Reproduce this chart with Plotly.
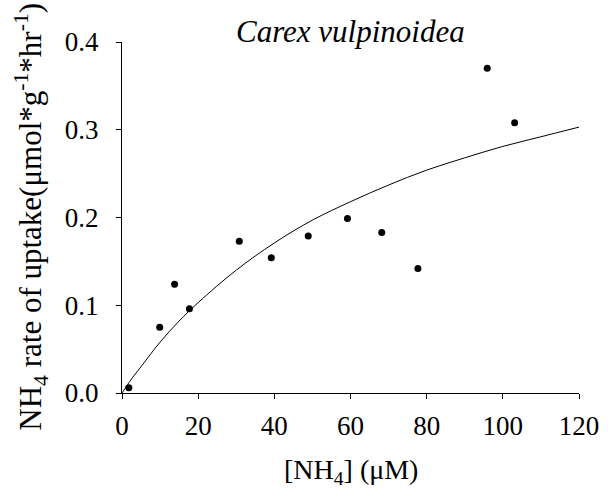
import plotly.graph_objects as go

# Measured data points
conc = [1.8, 9.9, 13.8, 17.7, 30.8, 39.2, 48.9, 59.2, 68.2, 77.7, 95.9, 103.1]
uptake = [0.006, 0.075, 0.124, 0.096, 0.173, 0.154, 0.179, 0.199, 0.183, 0.142, 0.370, 0.308]

# Fitted curve
curve_x = [0, 2.5, 5, 10, 15, 20, 30, 40, 50, 60, 70, 80, 90, 100, 110, 120]
curve_y = [0, 0.016, 0.030, 0.058, 0.082, 0.103, 0.140, 0.171, 0.197, 0.218,
           0.237, 0.254, 0.268, 0.281, 0.292, 0.303]

x_ticks = [0, 20, 40, 60, 80, 100, 120]
y_ticks = [0.0, 0.1, 0.2, 0.3, 0.4]
y_tick_text = ["0.0", "0.1", "0.2", "0.3", "0.4"]

FONT = "Liberation Serif"

fig = go.Figure()
fig.add_trace(go.Scatter(x=curve_x, y=curve_y, mode="lines", line_shape="spline",
                         line=dict(color="black", width=1), hoverinfo="skip"))
fig.add_trace(go.Scatter(x=conc, y=uptake, mode="markers",
                         marker=dict(color="black", size=7)))

fig.update_layout(
    width=611, height=499,
    margin=dict(l=122, r=25, t=42, b=106, pad=0),
    paper_bgcolor="white", plot_bgcolor="white",
    showlegend=False,
    font=dict(family=FONT, color="black", size=27),
    xaxis=dict(range=[0, 120], tickvals=x_ticks, ticks="outside", ticklen=5,
               tickwidth=1, tickcolor="black", showline=True, linecolor="black",
               linewidth=1, showgrid=False, zeroline=False,
               tickfont=dict(family=FONT, size=27, color="black"), ticklabelstandoff=4),
    yaxis=dict(range=[0, 0.4], tickvals=y_ticks, ticktext=y_tick_text, ticks="outside",
               ticklen=5, tickwidth=1, tickcolor="black", showline=True,
               linecolor="black", linewidth=1, showgrid=False, zeroline=False,
               tickfont=dict(family=FONT, size=27, color="black"), ticklabelstandoff=12),
    annotations=[
        dict(text="<i>Carex vulpinoidea</i>", xref="paper", yref="paper",
             x=0.5, y=(392.7 - 31) / 351, xanchor="center", yanchor="middle",
             showarrow=False, font=dict(family=FONT, size=31, color="black")),
        dict(text="[NH<sub>4</sub>] (μM)", xref="paper", yref="paper",
             x=0.5, y=(392.7 - 471) / 351, xanchor="center", yanchor="middle",
             showarrow=False, font=dict(family=FONT, size=28, color="black")),
        dict(text="NH<sub>4</sub> rate of uptake(μmol*g<sup>-1</sup>*hr<sup>-1</sup>)",
             xref="paper", yref="paper", x=(30 - 122) / 464, y=(392.7 - 216) / 351,
             xanchor="center", yanchor="middle", textangle=-90,
             showarrow=False, font=dict(family=FONT, size=31, color="black")),
    ],
)

fig.write_html("out.html")
